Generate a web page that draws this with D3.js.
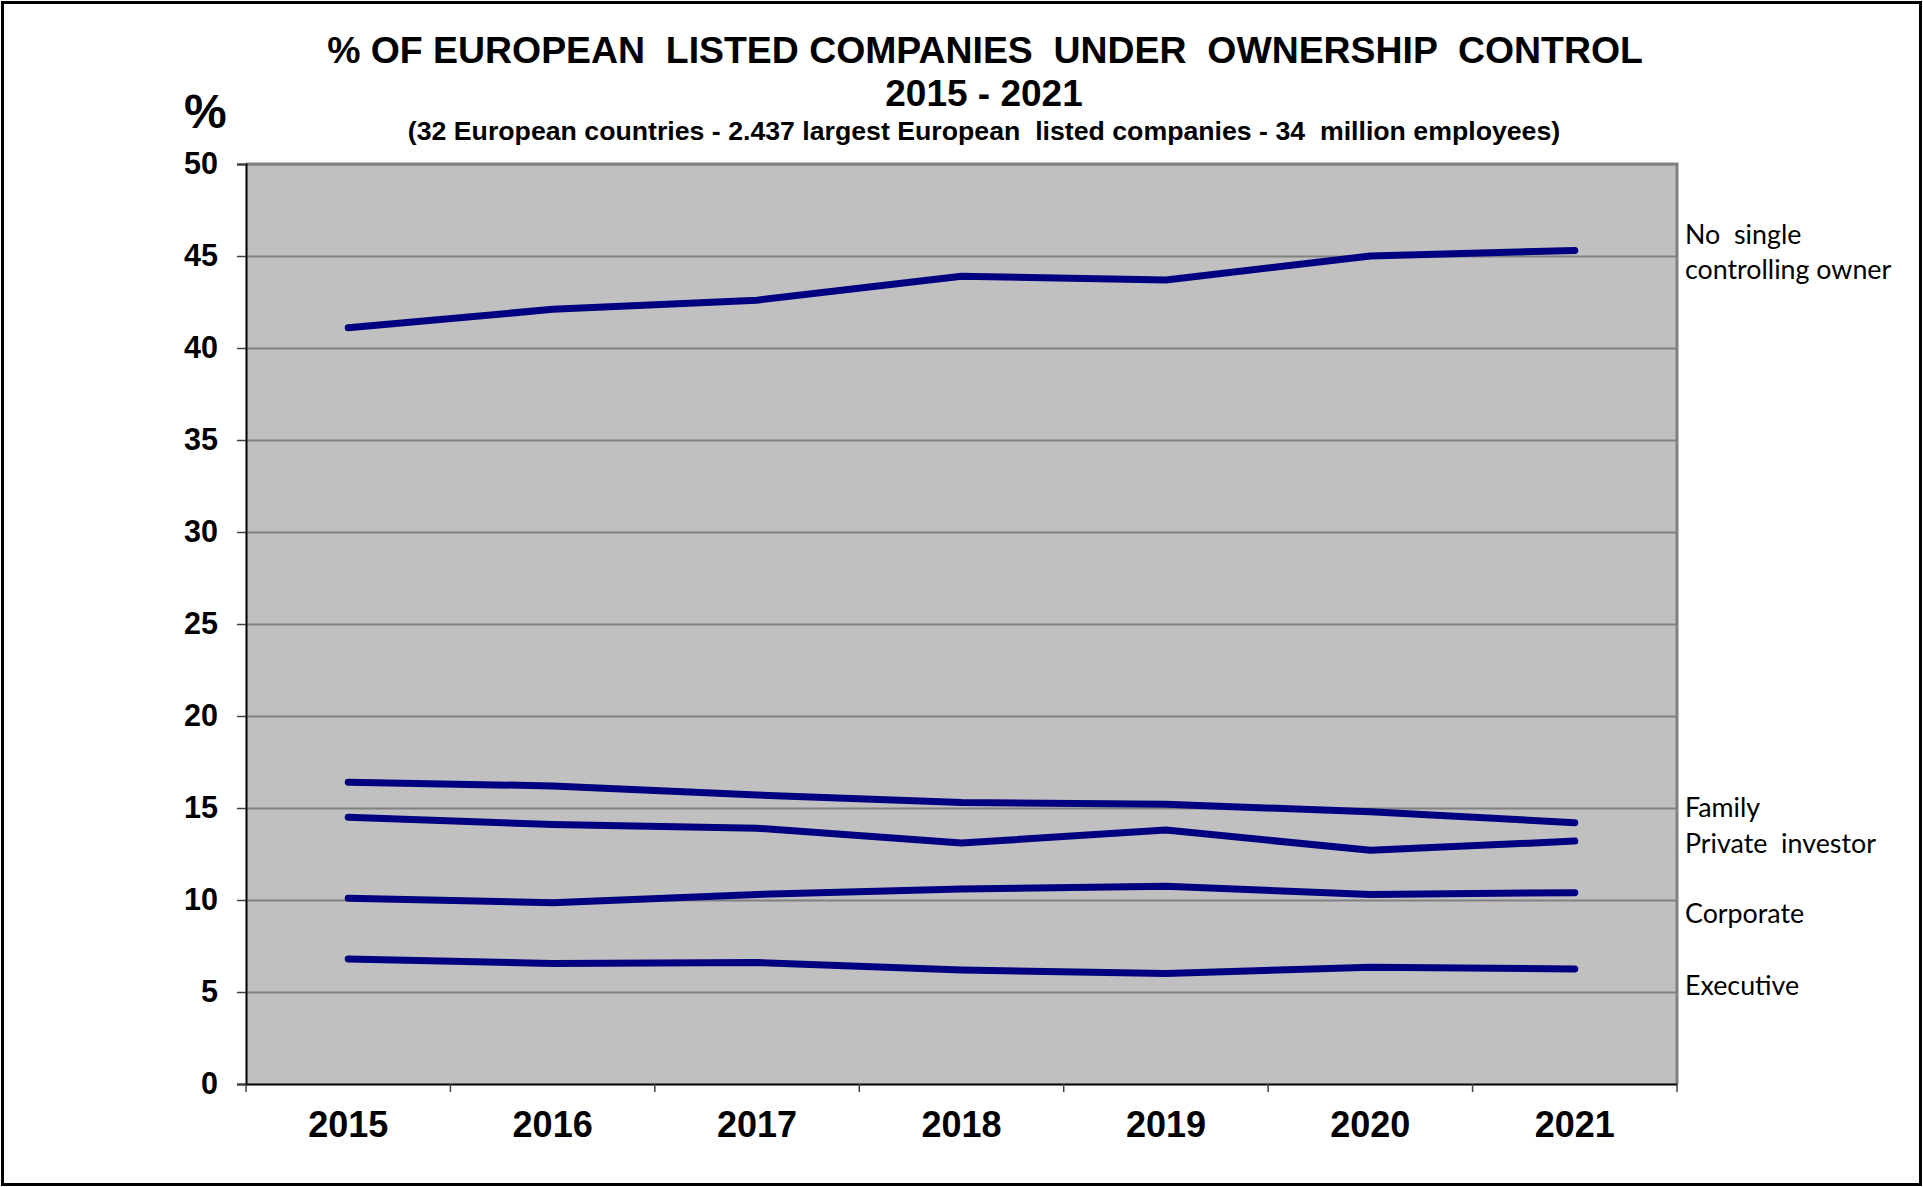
<!DOCTYPE html>
<html>
<head>
<meta charset="utf-8">
<script src="https://cdn.jsdelivr.net/npm/d3@7"></script>
<style>
  body { margin: 0; background: #fff; }
  text { white-space: pre; }
</style>
</head>
<body>
<script>
var years = ['2015', '2016', '2017', '2018', '2019', '2020', '2021']
var noSingle = [41.1, 42.1, 42.6, 43.9, 43.7, 45.0, 45.3]
var family = [16.4, 16.2, 15.7, 15.3, 15.2, 14.8, 14.2]
var privateInvestor = [14.5, 14.1, 13.9, 13.1, 13.8, 12.7, 13.2]
var corporate = [10.1, 9.85, 10.3, 10.6, 10.75, 10.3, 10.4]
var executive = [6.8, 6.55, 6.6, 6.2, 6.0, 6.35, 6.25]
var yTicks = [0, 5, 10, 15, 20, 25, 30, 35, 40, 45, 50]

var series = [noSingle, family, privateInvestor, corporate, executive]
var labelLines = [['No  single', 'controlling owner'], ['Family'], ['Private  investor'], ['Corporate'], ['Executive']]
// where each right-side label sits, in % units
var labelAt = [45.2, 15.0, 13.05, 9.25, 5.35]

var W = 1923, H = 1187
var m = {left: 246, right: 1677, top: 164, bottom: 1084}

var svg = d3.select('body').append('svg').attr('width', W).attr('height', H)

svg.append('rect')
  .attr('x', 2.5).attr('y', 2.5).attr('width', W - 5).attr('height', H - 5)
  .attr('fill', '#fff').attr('stroke', '#000').attr('stroke-width', 3)

var x = d3.scaleBand().domain(years).range([m.left, m.right]).padding(0)
var y = d3.scaleLinear().domain([0, 50]).range([m.bottom, m.top])

// plot background
svg.append('rect')
  .attr('x', m.left).attr('y', m.top)
  .attr('width', m.right - m.left).attr('height', m.bottom - m.top)
  .attr('fill', '#c0c0c0')

// gridlines
svg.append('g')
  .attr('transform', 'translate(' + m.left + ',0)')
  .call(d3.axisLeft(y).tickValues(yTicks.slice(1)).tickSize(-(m.right - m.left)).tickFormat(''))
  .call(g => g.select('.domain').remove())
  .call(g => g.selectAll('line').attr('stroke', '#808080').attr('stroke-width', 2))

// top and right frame
svg.append('path')
  .attr('d', 'M' + m.left + ',' + m.top + 'H' + m.right + 'V' + m.bottom)
  .attr('fill', 'none').attr('stroke', '#808080').attr('stroke-width', 3)

// y axis
var yAxis = svg.append('g')
  .attr('transform', 'translate(' + m.left + ',0)')
  .call(d3.axisLeft(y).tickValues(yTicks).tickSize(9).tickPadding(19))
yAxis.select('.domain').attr('stroke', '#000').attr('stroke-width', 2)
yAxis.selectAll('line').attr('stroke', '#404040').attr('stroke-width', 1.5)
yAxis.selectAll('text')
  .attr('font-family', 'Liberation Sans, Arial, sans-serif')
  .attr('font-weight', 'bold').attr('font-size', 30.5).attr('fill', '#000')
  .attr('dy', '0.3em')

// x axis
var xAxis = svg.append('g')
  .attr('transform', 'translate(0,' + m.bottom + ')')
  .call(d3.axisBottom(x).tickSize(0).tickPadding(27))
xAxis.select('.domain').attr('stroke', '#000').attr('stroke-width', 2)
xAxis.selectAll('text')
  .attr('font-family', 'Liberation Sans, Arial, sans-serif')
  .attr('font-weight', 'bold').attr('font-size', 36).attr('fill', '#000')

var edges = years.map(d => x(d)).concat([x.range()[1]])
xAxis.selectAll('line.edge').data(edges).join('line')
  .attr('class', 'edge')
  .attr('x1', d => d).attr('x2', d => d)
  .attr('y1', 0).attr('y2', 8)
  .attr('stroke', '#404040').attr('stroke-width', 1.5)

// series lines
var line = d3.line()
  .x((d, i) => x(years[i]) + x.bandwidth() / 2)
  .y(d => y(d))

svg.append('g').selectAll('path').data(series).join('path')
  .attr('d', d => line(d))
  .attr('fill', 'none')
  .attr('stroke', '#000080')
  .attr('stroke-width', 7)
  .attr('stroke-linecap', 'round')
  .attr('stroke-linejoin', 'round')

// right labels
var lab = svg.append('g')
  .attr('font-family', 'Lato, Calibri, sans-serif')
  .attr('font-size', 26.8).attr('fill', '#000')
labelLines.forEach(function(lines, i){
  var cy = y(labelAt[i])
  var n = lines.length
  lines.forEach(function(t, j){
    lab.append('text')
      .attr('x', m.right + 8)
      .attr('y', cy + (j - (n - 1) / 2) * 35)
      .attr('dy', '0.35em')
      .text(t)
  })
})

// titles
var tf = 'Liberation Sans, Arial, sans-serif'
svg.append('text').attr('x', 985).attr('y', 63).attr('text-anchor', 'middle')
  .attr('font-family', tf).attr('font-weight', 'bold').attr('font-size', 37.4)
  .text('% OF EUROPEAN  LISTED COMPANIES  UNDER  OWNERSHIP  CONTROL')
svg.append('text').attr('x', 984).attr('y', 106).attr('text-anchor', 'middle')
  .attr('font-family', tf).attr('font-weight', 'bold').attr('font-size', 37)
  .text('2015 - 2021')
svg.append('text').attr('x', 984).attr('y', 140).attr('text-anchor', 'middle')
  .attr('font-family', tf).attr('font-weight', 'bold').attr('font-size', 26.7)
  .text('(32 European countries - 2.437 largest European  listed companies - 34  million employees)')
svg.append('text').attr('x', 184).attr('y', 128)
  .attr('font-family', tf).attr('font-weight', 'bold').attr('font-size', 48)
  .text('%')
</script>
</body>
</html>
